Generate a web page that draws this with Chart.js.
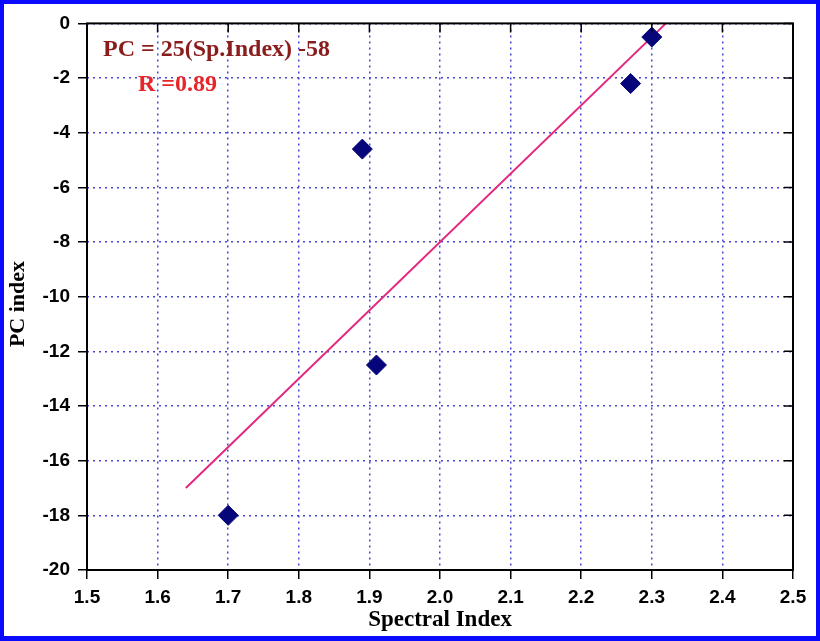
<!DOCTYPE html>
<html>
<head>
<meta charset="utf-8">
<script src="https://cdn.jsdelivr.net/npm/chart.js@4/dist/chart.umd.min.js"></script>
<style>
	html, body { margin: 0; padding: 0; background: #fff; }
	.frame {
		width: 820px;
		height: 641px;
		box-sizing: border-box;
		border: 4px solid #0a0aff;
		border-bottom-width: 5px;
		background: #fff;
	}
	canvas { display: block; }
</style>
</head>
<body>
<div class="frame"><canvas id="chart" width="812" height="632"></canvas></div>
<script>
const spectralIndex = [1.70, 1.89, 1.91, 2.27, 2.30];
const pcIndex = [-18.0, -4.6, -12.5, -2.2, -0.5];
const fitX = [1.64, 2.32];
const fitY = [-17.0, 0.0];
const equationText = "PC = 25(Sp.Index) -58";
const rText = "R =0.89";
const yTitle = "PC index";

const navy = "#06067a";
const pink = "#e3287e";
const gridBlue = "#4646d2";

const points = spectralIndex.map((x, i) => ({ x, y: pcIndex[i] }));
const fitLine = fitX.map((x, i) => ({ x, y: fitY[i] }));

const frameAndTicks = {
	id: "frameAndTicks",
	afterDraw(chart) {
		const { ctx, chartArea: a, scales } = chart;
		ctx.save();
		ctx.strokeStyle = "#000";
		ctx.lineWidth = 2;
		ctx.strokeRect(a.left, a.top, a.right - a.left, a.bottom - a.top);
		ctx.lineWidth = 1.5;
		ctx.beginPath();
		scales.x.ticks.forEach(t => {
			const px = scales.x.getPixelForValue(t.value);
			ctx.moveTo(px, a.top);
			ctx.lineTo(px, a.top + 9);
		});
		scales.y.ticks.forEach(t => {
			const py = scales.y.getPixelForValue(t.value);
			ctx.moveTo(a.right, py);
			ctx.lineTo(a.right - 9, py);
		});
		ctx.stroke();

		ctx.font = "bold 24px 'Liberation Serif', 'Times New Roman', serif";
		ctx.textBaseline = "alphabetic";
		ctx.fillStyle = "#8a1c1c";
		ctx.fillText(equationText, 99, 52);
		ctx.fillStyle = "#e8262a";
		ctx.fillText(rText, 134, 87);

		// y axis title
		ctx.translate(14, 300);
		ctx.rotate(-Math.PI / 2);
		ctx.font = "bold 22px 'Liberation Serif', 'Times New Roman', serif";
		ctx.fillStyle = "#000";
		ctx.textAlign = "center";
		ctx.textBaseline = "middle";
		ctx.fillText(yTitle, 0, 0);
		ctx.restore();
	},
};

const tickFont = { family: "'Liberation Sans', Arial, sans-serif", size: 19, weight: "bold" };
const titleFont = { family: "'Liberation Serif', 'Times New Roman', serif", size: 23, weight: "bold" };

const gridOpts = {
	color: gridBlue,
	lineWidth: 1.5,
	tickColor: "#000",
	tickLength: 9,
	tickBorderDash: [],
	tickWidth: 1.5,
};

new Chart(document.getElementById("chart"), {
	type: "scatter",
	data: {
		datasets: [
			{
				data: fitLine,
				showLine: true,
				borderColor: pink,
				borderWidth: 2,
				pointRadius: 0,
				order: 2,
			},
			{
				data: points,
				pointStyle: "rectRot",
				pointRadius: 10,
				pointHoverRadius: 10,
				backgroundColor: navy,
				borderColor: navy,
				borderWidth: 1,
				order: 1,
			},
		],
	},
	options: {
		responsive: false,
		animation: false,
		layout: { padding: { top: 13, right: 23, left: 0, bottom: 0 } },
		plugins: {
			legend: { display: false },
			tooltip: { enabled: false },
		},
		scales: {
			x: {
				type: "linear",
				min: 1.5,
				max: 2.5,
				afterFit: scale => (scale.height = 66),
				ticks: {
					stepSize: 0.1,
					color: "#000",
					font: tickFont,
					padding: 7,
					callback: v => v.toFixed(1),
				},
				grid: gridOpts,
				border: { display: false, dash: [2, 4] },
				title: {
					display: true,
					text: "Spectral Index",
					color: "#000",
					font: titleFont,
					padding: { top: 0, bottom: 2 },
				},
			},
			y: {
				min: -20,
				max: 0,
				afterFit: scale => (scale.width = 83),
				ticks: {
					stepSize: 2,
					color: "#000",
					font: tickFont,
					padding: 8,
				},
				grid: gridOpts,
				border: { display: false, dash: [2, 4] },
			},
		},
	},
	plugins: [frameAndTicks],
});
</script>
</body>
</html>
